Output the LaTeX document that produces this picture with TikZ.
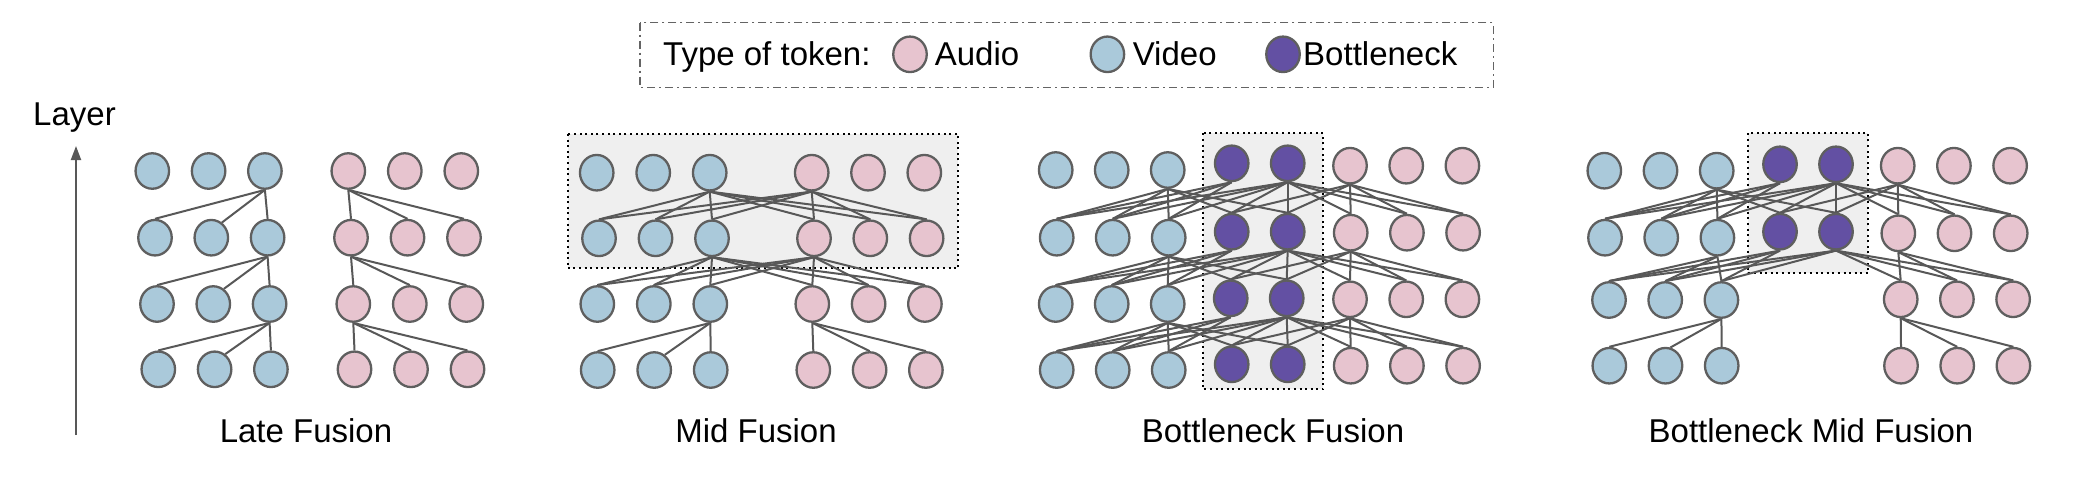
\documentclass[tikz,border=0pt]{standalone}
\usepackage{fontspec}
\setmainfont{Liberation Sans}
\usetikzlibrary{shapes.geometric,arrows.meta}
\pgfdeclarelayer{boxes}
\pgfdeclarelayer{edges}
\pgfsetlayers{boxes,edges,main}
\definecolor{vid}{RGB}{170,201,218}
\definecolor{aud}{RGB}{231,196,207}
\definecolor{bot}{RGB}{99,80,163}
\definecolor{outl}{RGB}{95,95,95}
\definecolor{edgec}{RGB}{88,88,88}
\definecolor{boxfill}{RGB}{239,239,239}
\definecolor{legc}{RGB}{100,100,100}
\begin{document}
\begin{tikzpicture}[x=1pt,y=-1pt,
  tok/.style={ellipse,draw=outl,line width=2.3pt,minimum width=33.5pt,minimum height=35.5pt,inner sep=0pt},
  vtok/.style={tok,fill=vid},
  atok/.style={tok,fill=aud},
  btok/.style={tok,fill=bot},
  link/.style={draw=edgec,line width=2pt},
  fusebox/.style={fill=boxfill,draw=black,line width=2pt,dash pattern=on 2pt off 3.6pt},
  legbox/.style={draw=legc,line width=1.5pt,dash pattern=on 8pt off 4pt on 2pt off 4pt},
  lbl/.style={font=\fontsize{33}{40}\selectfont,inner sep=0pt,anchor=base}
]
\useasboundingbox (0,0) rectangle (2084,499);

% ---------- legend ----------
\draw[legbox] (640,22.7) rectangle (1493.6,87.3);
\node[lbl,anchor=base west] (legT) at (663,65) {Type of token:};
\node[atok] (legA) at (910,54.3) {};
\node[lbl,anchor=base west] (legAt) at (934.6,65) {Audio};
\node[vtok] (legV) at (1107.4,54.3) {};
\node[lbl,anchor=base west] (legVt) at (1132.6,65) {Video};
\node[btok] (legB) at (1283,54.3) {};
\node[lbl,anchor=base west] (legBt) at (1303,65) {Bottleneck};

% ---------- layer axis ----------
\node[lbl] (layer) at (74.5,125) {Layer};
\coordinate (arrB) at (76,435);
\coordinate (arrT) at (76,146);
\draw[draw=edgec,line width=2pt,-{Triangle[length=14pt,width=10pt]}] (arrB) -- (arrT);

% ---------- captions ----------
\node[lbl] (capL) at (306,442) {Late Fusion};
\node[lbl] (capM) at (756,442) {Mid Fusion};
\node[lbl] (capB) at (1273,442) {Bottleneck Fusion};
\node[lbl] (capN) at (1811,442) {Bottleneck Mid Fusion};

% ---------- fusion regions ----------
\begin{pgfonlayer}{boxes}
\draw[fusebox] (567.7,134) rectangle (958.3,268.3);
\draw[fusebox] (1202.7,133.3) rectangle (1323.3,389.3);
\draw[fusebox] (1748.3,133.3) rectangle (1868.3,273.3);
\end{pgfonlayer}

% ---------- Late fusion tokens ----------
\foreach \r/\x/\y in {1/152.3/171,2/155/237.7,3/157/304,4/158.3/369.3}
  \foreach \c in {1,2,3}
    \node[vtok] (L-v-\r-\c) at ({\x+56.3*(\c-1)},\y) {};
\foreach \r/\x/\y in {1/348.3/171,2/351/237.7,3/353.3/304,4/354.5/369.3}
  \foreach \c in {1,2,3}
    \node[atok] (L-a-\r-\c) at ({\x+56.5*(\c-1)},\y) {};

% ---------- Mid fusion tokens ----------
\foreach \r/\x/\y in {1/596.7/172.7,2/599/238.3,3/597.3/304,4/597.7/370}
  \foreach \c in {1,2,3}
    \node[vtok] (M-v-\r-\c) at ({\x+56.5*(\c-1)},\y) {};
\foreach \r/\x/\y in {1/811.7/172.7,2/814/238.3,3/812.3/304,4/813.3/370}
  \foreach \c in {1,2,3}
    \node[atok] (M-a-\r-\c) at ({\x+56.3*(\c-1)},\y) {};

% ---------- Bottleneck fusion tokens ----------
\foreach \r/\x/\y in {1/1055.7/170,2/1056.7/237.7,3/1055.7/304,4/1056.7/370}
  \foreach \c in {1,2,3}
    \node[vtok] (B-v-\r-\c) at ({\x+56*(\c-1)},\y) {};
\foreach \r/\x/\y in {1/1231.7/163.3,2/1231.7/231.7,3/1230.7/298.3,4/1231.7/364.3}
  \foreach \c in {1,2}
    \node[btok] (B-b-\r-\c) at ({\x+56*(\c-1)},\y) {};
\foreach \r/\x/\y in {1/1350/165.7,2/1350.7/232.7,3/1350/299.3,4/1350.7/365.7}
  \foreach \c in {1,2,3}
    \node[atok] (B-a-\r-\c) at ({\x+56.2*(\c-1)},\y) {};

% ---------- Bottleneck mid fusion tokens ----------
\foreach \r/\x/\y in {1/1604.3/170.7,2/1605/237.7,3/1609/300,4/1609.3/365.7}
  \foreach \c in {1,2,3}
    \node[vtok] (N-v-\r-\c) at ({\x+56.2*(\c-1)},\y) {};
\foreach \r/\x/\y in {1/1780/164.3,2/1780/231.7}
  \foreach \c in {1,2}
    \node[btok] (N-b-\r-\c) at ({\x+56*(\c-1)},\y) {};
\foreach \r/\x/\y in {1/1897.7/165.7,2/1898.3/233.3,3/1900.7/299.3,4/1901/365.7}
  \foreach \c in {1,2,3}
    \node[atok] (N-a-\r-\c) at ({\x+56.2*(\c-1)},\y) {};

% ---------- connectors ----------
\begin{pgfonlayer}{edges}
% Late fusion: within modality only
\foreach \r [evaluate=\r as \s using int(\r+1)] in {1,2,3} {
  \draw[link] (L-v-\r-3.south) -- (L-v-\s-1.north);
  \draw[link] (L-v-\r-3.south) -- (L-v-\s-2.55);
  \draw[link] (L-v-\r-3.south) -- (L-v-\s-3.north);
  \foreach \c in {1,2,3}
    \draw[link] (L-a-\r-1.south) -- (L-a-\s-\c.north);
}
% Mid fusion: full attention in the top layers
\foreach \r [evaluate=\r as \s using int(\r+1)] in {1,2} {
  \foreach \t in {v-\s-1,v-\s-2,v-\s-3,a-\s-1,a-\s-2,a-\s-3} {
    \draw[link] (M-v-\r-3.south) -- (M-\t.north);
    \draw[link] (M-a-\r-1.south) -- (M-\t.north);
  }
}
\draw[link] (M-v-3-3.south) -- (M-v-4-1.north);
\draw[link] (M-v-3-3.south) -- (M-v-4-2.55);
\draw[link] (M-v-3-3.south) -- (M-v-4-3.north);
\foreach \c in {1,2,3}
  \draw[link] (M-a-3-1.south) -- (M-a-4-\c.north);
% Bottleneck fusion
\foreach \r [evaluate=\r as \s using int(\r+1)] in {1,2,3} {
  \foreach \t in {v-\s-1,v-\s-2,v-\s-3,b-\s-1,b-\s-2}
    \draw[link] (B-v-\r-3.south) -- (B-\t.north);
  \foreach \t in {v-\s-1,v-\s-2,v-\s-3}
    \draw[link] (B-b-\r-1.south) -- (B-\t.north);
  \foreach \t in {v-\s-1,v-\s-2,v-\s-3,b-\s-1,b-\s-2,a-\s-1,a-\s-2,a-\s-3}
    \draw[link] (B-b-\r-2.south) -- (B-\t.north);
  \foreach \t in {b-\s-1,b-\s-2,a-\s-1,a-\s-2,a-\s-3}
    \draw[link] (B-a-\r-1.south) -- (B-\t.north);
}
% Bottleneck mid fusion
\foreach \t in {v-2-1,v-2-2,v-2-3,b-2-1,b-2-2}
  \draw[link] (N-v-1-3.south) -- (N-\t.north);
\foreach \t in {v-2-1,v-2-2,v-2-3}
  \draw[link] (N-b-1-1.south) -- (N-\t.north);
\foreach \t in {v-2-1,v-2-2,v-2-3,b-2-1,b-2-2,a-2-1,a-2-2,a-2-3}
  \draw[link] (N-b-1-2.south) -- (N-\t.north);
\foreach \t in {b-2-1,b-2-2,a-2-1,a-2-2,a-2-3}
  \draw[link] (N-a-1-1.south) -- (N-\t.north);
\foreach \t in {v-3-1,v-3-2,v-3-3}
  \draw[link] (N-v-2-3.south) -- (N-\t.north);
\foreach \t in {v-3-1,v-3-2,v-3-3}
  \draw[link] (N-b-2-1.south) -- (N-\t.north);
\foreach \t in {v-3-1,v-3-2,v-3-3,a-3-1,a-3-2,a-3-3}
  \draw[link] (N-b-2-2.south) -- (N-\t.north);
\foreach \t in {a-3-1,a-3-2,a-3-3}
  \draw[link] (N-a-2-1.south) -- (N-\t.north);
\draw[link] (N-v-3-3.south) -- (N-v-4-1.north);
\draw[link] (N-v-3-3.south) -- (N-v-4-2.75);
\draw[link] (N-v-3-3.south) -- (N-v-4-3.north);
\foreach \c in {1,2,3}
  \draw[link] (N-a-3-1.south) -- (N-a-4-\c.north);
\end{pgfonlayer}
\end{tikzpicture}
\end{document}
